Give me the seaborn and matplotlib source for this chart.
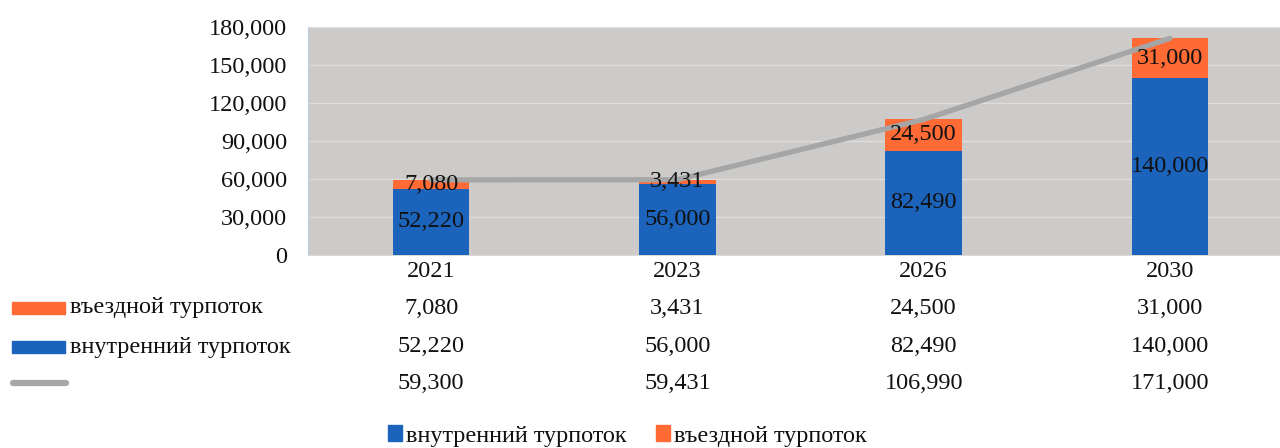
import numpy as np
import matplotlib
matplotlib.use('Agg')
import matplotlib.pyplot as plt
import matplotlib.transforms as mtransforms
from matplotlib.patches import Rectangle, Patch
from matplotlib.lines import Line2D
import seaborn as sns

years = ['2021', '2023', '2026', '2030']
domestic = [52220, 56000, 82490, 140000]
inbound = [7080, 3431, 24500, 31000]
totals = [59300, 59431, 106990, 171000]

label_domestic = 'внутренний турпоток'
label_inbound = 'въездной турпоток'

c_blue = '#1C63BB'
c_orange = '#FF6A35'
c_gray = '#A6A6A6'
c_bg = '#CCCBCA'
fs = 17.5

sns.set_style('white')
plt.rcParams['font.family'] = ['Liberation Serif', 'DejaVu Serif']
plt.rcParams['text.color'] = '#111111'

fig = plt.figure(figsize=(12.8, 4.48), dpi=100)
ax = fig.add_axes([308 / 1280, 1 - 255 / 448, 1 - 308 / 1280, 228 / 448])
ax.set_facecolor(c_bg)

pos = np.arange(len(years))
stack_top = [d + i for d, i in zip(domestic, inbound)]

# orange first (full height), blue drawn over it
sns.barplot(x=years, y=stack_top, color=c_orange, width=0.31, saturation=1,
            linewidth=0, ax=ax, zorder=2)
sns.barplot(x=years, y=domestic, color=c_blue, width=0.31, saturation=1,
            linewidth=0, ax=ax, zorder=3)
sns.lineplot(x=pos, y=totals, color=c_gray, lw=3.8, ax=ax, zorder=4,
             solid_capstyle='round')

for i in range(len(years)):
    ax.text(pos[i], domestic[i] / 2, f'{domestic[i]:,}', ha='center', va='center',
            fontsize=fs, zorder=5)
    ax.text(pos[i], domestic[i] + inbound[i] / 2, f'{inbound[i]:,}', ha='center',
            va='center', fontsize=fs, zorder=5)

ax.set_ylim(0, 180000)
ax.set_xlim(-0.5, 3.447)
ax.set_yticks(range(0, 180001, 30000))
ax.set_yticklabels([f'{v:,}' for v in range(0, 180001, 30000)], fontsize=fs,
                   color='#111111')
ax.set_xticks(pos)
ax.set_xticklabels(years, fontsize=fs, color='#111111')
ax.tick_params(axis='y', length=0, pad=15)
ax.tick_params(axis='x', length=0, pad=4)
ax.yaxis.grid(True, color='#DEDDDC', lw=1, zorder=0)
ax.set_axisbelow(True)
ax.set_xlabel('')
ax.set_ylabel('')
for s in ['top', 'right']:
    ax.spines[s].set_visible(False)
ax.spines['left'].set_color('#B9CBE6')
ax.spines['bottom'].set_color('#D9D9D9')

# data table under the chart
trans = mtransforms.blended_transform_factory(ax.transData, fig.transFigure)
rows = [inbound, domestic, totals]
row_y = [1 - 308 / 448, 1 - 347 / 448, 1 - 383 / 448]
for vals, y in zip(rows, row_y):
    for i, v in enumerate(vals):
        fig.text(pos[i], y, f'{v:,}', transform=trans, ha='center', va='center',
                 fontsize=fs)

fig.text(70 / 1280, row_y[0], label_inbound, ha='left', va='center', fontsize=fs)
fig.text(70 / 1280, row_y[1], label_domestic, ha='left', va='center', fontsize=fs)
fig.patches.append(Rectangle((12 / 1280, row_y[0] - 6 / 448), 53 / 1280, 12 / 448,
                             color=c_orange, transform=fig.transFigure))
fig.patches.append(Rectangle((12 / 1280, row_y[1] - 6 / 448), 53 / 1280, 12 / 448,
                             color=c_blue, transform=fig.transFigure))
fig.lines.append(Line2D([13 / 1280, 66 / 1280], [row_y[2], row_y[2]], lw=4.5,
                        color=c_gray, solid_capstyle='round',
                        transform=fig.transFigure))

handles = [Patch(color=c_blue, label=label_domestic),
           Patch(color=c_orange, label=label_inbound)]
fig.legend(handles=handles, loc='center', bbox_to_anchor=(0.49, 1 - 436 / 448),
           ncol=2, frameon=False, fontsize=fs, handlelength=0.6, handleheight=0.6,
           handletextpad=0.15, columnspacing=1.2, borderpad=0)

fig.savefig('out.png', dpi=100)
